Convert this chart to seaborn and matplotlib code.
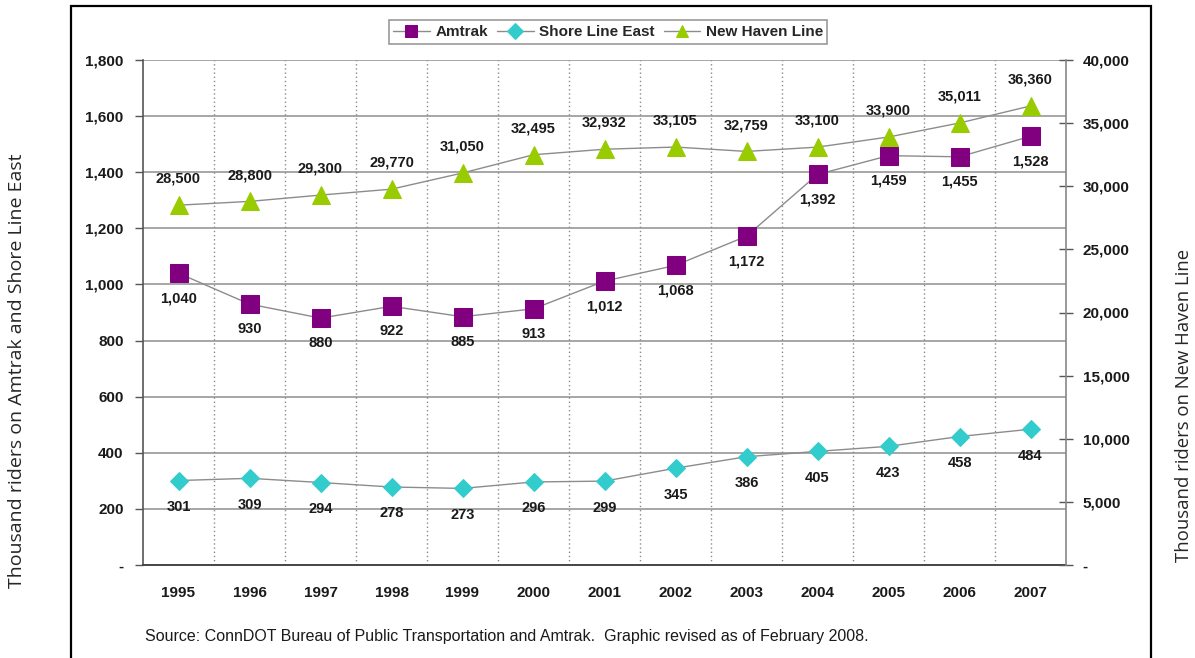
import matplotlib
matplotlib.use("Agg")
import matplotlib.pyplot as plt
from matplotlib.patches import Rectangle
from matplotlib.ticker import FuncFormatter, MultipleLocator
import pandas as pd
import seaborn as sns

years = [1995, 1996, 1997, 1998, 1999, 2000, 2001, 2002, 2003, 2004, 2005, 2006, 2007]
amtrak = [1040, 930, 880, 922, 885, 913, 1012, 1068, 1172, 1392, 1459, 1455, 1528]
shore_line_east = [301, 309, 294, 278, 273, 296, 299, 345, 386, 405, 423, 458, 484]
new_haven_line = [28500, 28800, 29300, 29770, 31050, 32495, 32932, 33105, 32759,
                  33100, 33900, 35011, 36360]

df = pd.DataFrame({"year": years, "Amtrak": amtrak,
                   "Shore Line East": shore_line_east,
                   "New Haven Line": new_haven_line})

sns.set_style("white")
plt.rcParams["font.family"] = ["Liberation Sans", "DejaVu Sans"]

LINE = "#8c8c8c"
PURPLE = "#800080"
TEAL = "#33CCCC"
GREEN = "#99CC00"
GRID = "#a6a6a6"
AXIS = "#555555"
TXT = "#1a1a1a"

fig = plt.figure(figsize=(11.95, 6.58), dpi=100)
ax = fig.add_axes([143 / 1195, 1 - 565 / 658, (1066 - 143) / 1195, (565 - 60) / 658])
ax2 = ax.twinx()

sns.lineplot(data=df, x="year", y="Amtrak", ax=ax, color=LINE, lw=1.0,
             marker="s", markersize=12.5, markerfacecolor=PURPLE,
             markeredgecolor=PURPLE, label="Amtrak", legend=False)
sns.lineplot(data=df, x="year", y="Shore Line East", ax=ax, color=LINE, lw=1.0,
             marker="D", markersize=9.5, markerfacecolor=TEAL,
             markeredgecolor=TEAL, label="Shore Line East", legend=False)
sns.lineplot(data=df, x="year", y="New Haven Line", ax=ax2, color=LINE, lw=1.0,
             marker="^", markersize=13.5, markerfacecolor=GREEN,
             markeredgecolor=GREEN, label="New Haven Line", legend=False)

# value labels
lab_kw = dict(textcoords="offset points", ha="center", va="center",
              fontsize=10.5, fontweight="bold", color=TXT)
for x, v in zip(years, amtrak):
    ax.annotate(f"{v:,}", (x, v), xytext=(0, -18), **lab_kw)
for x, v in zip(years, shore_line_east):
    ax.annotate(f"{v:,}", (x, v), xytext=(0, -19), **lab_kw)
for x, v in zip(years, new_haven_line):
    ax2.annotate(f"{v:,}", (x, v), xytext=(0, 19), **lab_kw)

# axes ranges and ticks
ax.set_xlim(years[0] - 0.5, years[-1] + 0.5)
ax.set_ylim(0, 1800)
ax2.set_ylim(0, 40000)
ax.yaxis.set_major_locator(MultipleLocator(200))
ax2.yaxis.set_major_locator(MultipleLocator(5000))
dash_fmt = lambda v, p: "-" if v == 0 else f"{int(v):,}"
ax.yaxis.set_major_formatter(FuncFormatter(dash_fmt))
ax2.yaxis.set_major_formatter(FuncFormatter(dash_fmt))
ax.set_xticks(years)
ax.set_xticklabels([str(y) for y in years])
ax.set_xticks([y + 0.5 for y in years[:-1]] + [years[0] - 0.5], minor=True)

for lbl in ax.get_xticklabels() + ax.get_yticklabels() + ax2.get_yticklabels():
    lbl.set_fontweight("bold")
    lbl.set_fontsize(11)
    lbl.set_color(TXT)

ax.tick_params(axis="x", which="major", length=0, pad=15)
ax.tick_params(axis="x", which="minor", length=6, width=1, color=AXIS, direction="out")
ax.tick_params(axis="y", length=6, width=1, color=AXIS, direction="out", pad=8)
ax2.tick_params(axis="y", length=10, width=1, color=AXIS, direction="inout", pad=7)

ax.set_xlabel("")
ax.set_ylabel("")
ax2.set_ylabel("")

# grid: horizontal solid, vertical dotted at category boundaries
ax.grid(False)
ax2.grid(False)
for v in range(200, 1801, 200):
    ax.axhline(v, color=GRID, lw=1.4, zorder=0.5)
for b in [y + 0.5 for y in years[:-1]]:
    ax.axvline(b, color="#8a8a8a", lw=1.0, ls=(0, (1, 2)), zorder=0.5)

for a in (ax, ax2):
    a.spines["top"].set_visible(False)
    a.spines["left"].set_color(AXIS)
    a.spines["bottom"].set_color("#444444")
    a.spines["right"].set_color("#888888")
    a.spines["bottom"].set_linewidth(1.4)
    a.spines["left"].set_linewidth(1.2)
    a.spines["right"].set_linewidth(1.2)
ax.spines["right"].set_visible(False)
ax2.spines["left"].set_visible(False)
ax2.spines["bottom"].set_visible(False)

# legend
h1, l1 = ax.get_legend_handles_labels()
h2, l2 = ax2.get_legend_handles_labels()
leg = fig.legend(h1 + h2, l1 + l2, loc="center", bbox_to_anchor=(608 / 1195, 1 - 32 / 658),
                 ncol=3, frameon=True, fancybox=False, shadow=False,
                 prop={"weight": "bold", "size": 11}, handlelength=2.4,
                 handletextpad=0.35, columnspacing=0.6, borderpad=0.3,
                 edgecolor="#808080")
leg.get_frame().set_linewidth(1.2)
for h in leg.legend_handles:
    h.set_markersize(8)

# outer frame
fig.patches.append(Rectangle((71 / 1195, -0.05), (1151 - 71) / 1195, 1.05 - 6 / 658,
                             transform=fig.transFigure, fill=False,
                             edgecolor="black", lw=1.6))

# source note
fig.text(145 / 1195, 1 - 636 / 658,
         "Source: ConnDOT Bureau of Public Transportation and Amtrak.  Graphic revised as of February 2008.",
         ha="left", va="center", fontsize=11.5, color=TXT)

# outer axis titles
fig.text(17 / 1195, 1 - 371 / 658, "Thousand riders on Amtrak and Shore Line East",
         rotation=90, ha="center", va="center", fontsize=14,
         family=["Open Sans", "DejaVu Sans"])
fig.text(1184 / 1195, 1 - 405 / 658, "Thousand riders on New Haven Line",
         rotation=90, ha="center", va="center", fontsize=13.3,
         family=["Open Sans", "DejaVu Sans"])

fig.savefig("out.png", dpi=100)
